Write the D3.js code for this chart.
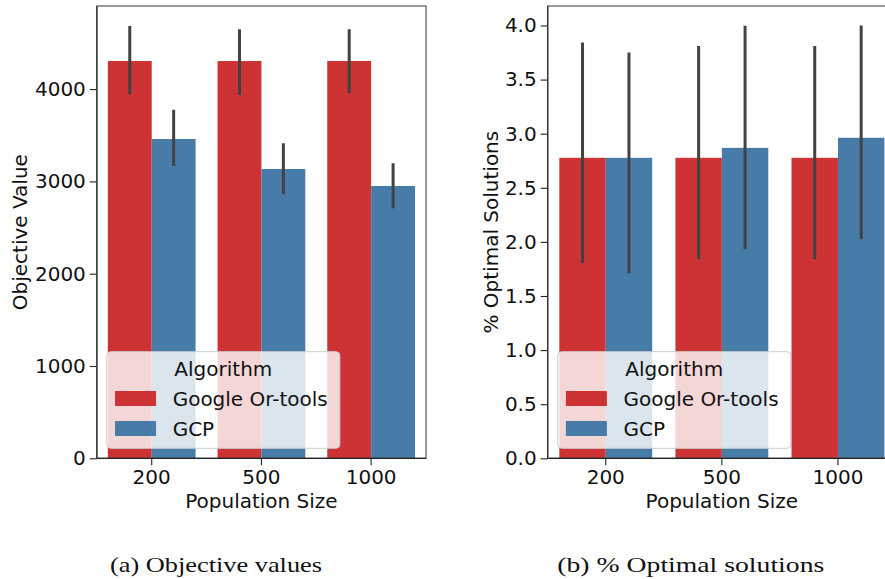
<!DOCTYPE html>
<html>
<head>
<meta charset="utf-8">
<script src="https://cdn.jsdelivr.net/npm/d3@7"></script>
<style>
body { margin: 0; background: #fff; }
text { font-family: "DejaVu Sans", sans-serif; fill: #111; }
</style>
</head>
<body>
<svg id="chart" width="885" height="579"></svg>
<script>
// data
var sizes = ["200", "500", "1000"];
var algorithms = ["Google Or-tools", "GCP"];
var colors = ["#cd3334", "#477ca8"];

// objective values (mean, ci low, ci high)
var objGoogle = [4304, 4304, 4304];
var objGoogleLo = [3944, 3936, 3955];
var objGoogleHi = [4684, 4648, 4648];
var objGcp = [3459, 3134, 2950];
var objGcpLo = [3167, 2860, 2709];
var objGcpHi = [3777, 3413, 3196];
var objTicks = [0, 1000, 2000, 3000, 4000];

// % optimal solutions
var optGoogle = [2.777, 2.777, 2.777];
var optGoogleLo = [1.806, 1.84, 1.84];
var optGoogleHi = [3.843, 3.81, 3.81];
var optGcp = [2.777, 2.869, 2.962];
var optGcpLo = [1.711, 1.932, 2.025];
var optGcpHi = [3.75, 3.997, 4.0];
var optTicks = [0, 0.5, 1, 1.5, 2, 2.5, 3, 3.5, 4];

var svg = d3.select('#chart');

function rows(means, lo, hi, alg){
	var rv = [];
	for (var i = 0; i < sizes.length; i++){
		rv.push({size: sizes[i], alg: alg, v: means[i], lo: lo[i], hi: hi[i]});
	}
	return rv;
}

function panel(p){
	var g = svg.append('g');
	var x = d3.scaleBand().domain(sizes).range([p.x0, p.x1]).paddingInner(0.2).paddingOuter(0.1);
	var xh = d3.scaleBand().domain(algorithms).range([0, x.bandwidth()]);
	var y = d3.scaleLinear().domain([0, p.ymax]).range([p.y0, p.y1]);
	var color = d3.scaleOrdinal().domain(algorithms).range(colors);

	var clip = 'clip' + p.id;
	g.append('clipPath').attr('id', clip).append('rect')
		.attr('x', p.x0).attr('y', p.y1).attr('width', p.x1 - p.x0).attr('height', p.y0 - p.y1);
	var plot = g.append('g').attr('clip-path', 'url(#' + clip + ')');

	var data = p.data;
	plot.selectAll('rect.bar').data(data).enter().append('rect')
		.attr('class', 'bar')
		.attr('x', function(d){ return x(d.size) + xh(d.alg); })
		.attr('y', function(d){ return y(d.v); })
		.attr('width', xh.bandwidth())
		.attr('height', function(d){ return y(0) - y(d.v); })
		.attr('fill', function(d){ return color(d.alg); });

	plot.selectAll('line.err').data(data).enter().append('line')
		.attr('class', 'err')
		.attr('x1', function(d){ return x(d.size) + xh(d.alg) + xh.bandwidth() / 2; })
		.attr('x2', function(d){ return x(d.size) + xh(d.alg) + xh.bandwidth() / 2; })
		.attr('y1', function(d){ return y(d.lo); })
		.attr('y2', function(d){ return y(d.hi); })
		.attr('stroke', '#424242')
		.attr('stroke-width', 3);

	// axes
	var ya = g.append('g').attr('transform', 'translate(' + p.x0 + ',0)')
		.call(d3.axisLeft(y).tickValues(p.ticks).tickFormat(p.fmt).tickSizeOuter(0).tickSize(7).tickPadding(4));
	var xa = g.append('g').attr('transform', 'translate(0,' + p.y0 + ')')
		.call(d3.axisBottom(x).tickSizeOuter(0).tickSize(7).tickPadding(5));
	[ya, xa].forEach(function(a){
		a.select('.domain').remove();
		a.selectAll('line').attr('stroke', '#222').attr('stroke-width', 1.1);
		a.selectAll('text').attr('font-size', 20).attr('fill', '#111')
			.style('font-family', '"DejaVu Sans", sans-serif');
	});

	// spines
	g.append('rect').attr('x', p.x0).attr('y', p.y1)
		.attr('width', p.x1 - p.x0).attr('height', p.y0 - p.y1)
		.attr('fill', 'none').attr('stroke', '#555').attr('stroke-width', 1.2);
	g.append('line').attr('x1', p.x0).attr('x2', p.x1).attr('y1', p.y0).attr('y2', p.y0)
		.attr('stroke', '#222').attr('stroke-width', 1.3);
	g.append('line').attr('x1', p.x0).attr('x2', p.x0).attr('y1', p.y1).attr('y2', p.y0)
		.attr('stroke', '#333').attr('stroke-width', 1.3);

	// labels
	g.append('text').attr('x', (p.x0 + p.x1) / 2).attr('y', 507.5)
		.attr('text-anchor', 'middle').attr('font-size', 20).text('Population Size');
	g.append('text')
		.attr('transform', 'translate(' + p.ylabX + ',' + ((p.y0 + p.y1) / 2) + ') rotate(-90)')
		.attr('text-anchor', 'middle').attr('font-size', 20).text(p.ylab);

	// legend
	var lg = g.append('g').attr('transform', 'translate(' + p.x0 + ',' + p.y0 + ')');
	lg.append('rect').attr('x', 10).attr('y', -106.6).attr('width', 233).attr('height', 96.6)
		.attr('rx', 4).attr('fill', 'white').attr('fill-opacity', 0.8)
		.attr('stroke', '#cccccc').attr('stroke-width', 1);
	lg.append('text').attr('x', 126.5).attr('y', -82.3).attr('text-anchor', 'middle')
		.attr('font-size', 20).text('Algorithm');
	algorithms.forEach(function(a, i){
		lg.append('rect').attr('x', 18.2).attr('y', -67.3 + i * 30).attr('width', 41).attr('height', 15)
			.attr('fill', color(a));
		lg.append('text').attr('x', 75.8).attr('y', -52.3 + i * 30).attr('font-size', 20).text(a);
	});

	// caption
	svg.append('text').attr('x', p.capX).attr('y', 571.7)
		.attr('font-size', 22).attr('textLength', p.capW).attr('lengthAdjust', 'spacingAndGlyphs')
		.style('font-family', '"Liberation Serif", "DejaVu Serif", serif')
		.text(p.caption);
}

panel({
	id: 'a', x0: 96.85, x1: 426, y0: 458.3, y1: 6, ymax: 4900,
	ticks: objTicks, fmt: d3.format('d'),
	data: rows(objGoogle, objGoogleLo, objGoogleHi, algorithms[0]).concat(rows(objGcp, objGcpLo, objGcpHi, algorithms[1])),
	ylab: 'Objective Value', ylabX: 27,
	caption: '(a) Objective values', capX: 110, capW: 212
});

panel({
	id: 'b', x0: 547.7, x1: 896, y0: 458.3, y1: 6, ymax: 4.18,
	ticks: optTicks, fmt: d3.format('.1f'),
	data: rows(optGoogle, optGoogleLo, optGoogleHi, algorithms[0]).concat(rows(optGcp, optGcpLo, optGcpHi, algorithms[1])),
	ylab: '% Optimal Solutions', ylabX: 498,
	caption: '(b) % Optimal solutions', capX: 557.3, capW: 267
});
</script>
</body>
</html>
